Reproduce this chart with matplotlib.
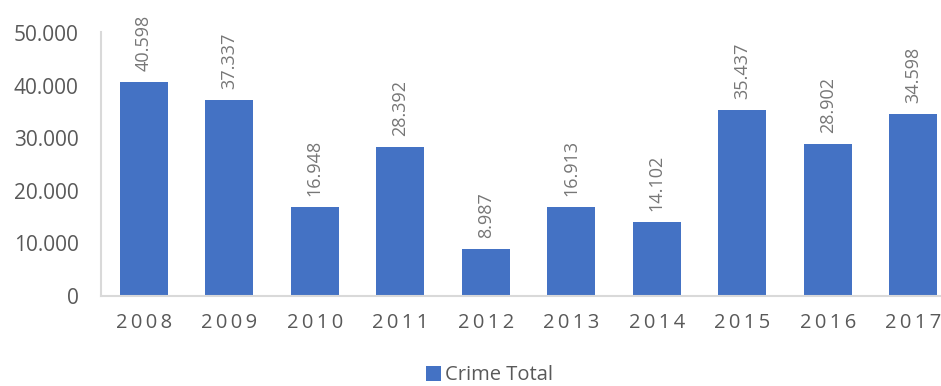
import matplotlib.pyplot as plt
from matplotlib.ticker import FuncFormatter

years = ["2008", "2009", "2010", "2011", "2012", "2013", "2014", "2015", "2016", "2017"]
crime_total = [40598, 37337, 16948, 28392, 8987, 16913, 14102, 35437, 28902, 34598]

plt.rcParams["font.family"] = ["Open Sans", "DejaVu Sans"]


def dot_thousands(v, pos=None):
    return f"{int(round(v)):,}".replace(",", ".")


fig = plt.figure(figsize=(9.41, 3.86), dpi=100)
ax = fig.add_axes([101 / 941, 90 / 386, 855 / 941, 264 / 386])

x = range(len(years))
bars = ax.bar(x, crime_total, width=0.56, color="#4472C4", label="Crime Total")

# Подписи значений над столбцами, повернутые вертикально
for xi, v in zip(x, crime_total):
    ax.annotate(dot_thousands(v), (xi, v), xytext=(0, 8), textcoords="offset points",
                rotation=90, ha="center", va="bottom", fontsize=13, color="#767676")

ax.set_xlim(-0.5, len(years) - 0.5)
ax.set_ylim(0, 50200)
ax.set_yticks([0, 10000, 20000, 30000, 40000, 50000])
ax.yaxis.set_major_formatter(FuncFormatter(dot_thousands))
ax.set_xticks(list(x))
ax.set_xticklabels(["\u2009".join(y) for y in years])

for side in ["top", "right"]:
    ax.spines[side].set_visible(False)
for side in ["left", "bottom"]:
    ax.spines[side].set_color("#D9D9D9")
    ax.spines[side].set_linewidth(1.5)

ax.tick_params(axis="y", length=0, labelsize=15, colors="#595959", pad=16)
ax.tick_params(axis="x", length=0, labelsize=14.5, colors="#595959", pad=12)

fig.legend(handles=[bars], loc="lower center", bbox_to_anchor=(0.52, -0.045),
           frameon=False, fontsize=14.5, handlelength=0.75, handleheight=0.75,
           handletextpad=0.2, labelcolor="#595959")

fig.savefig("out.png", dpi=100)
